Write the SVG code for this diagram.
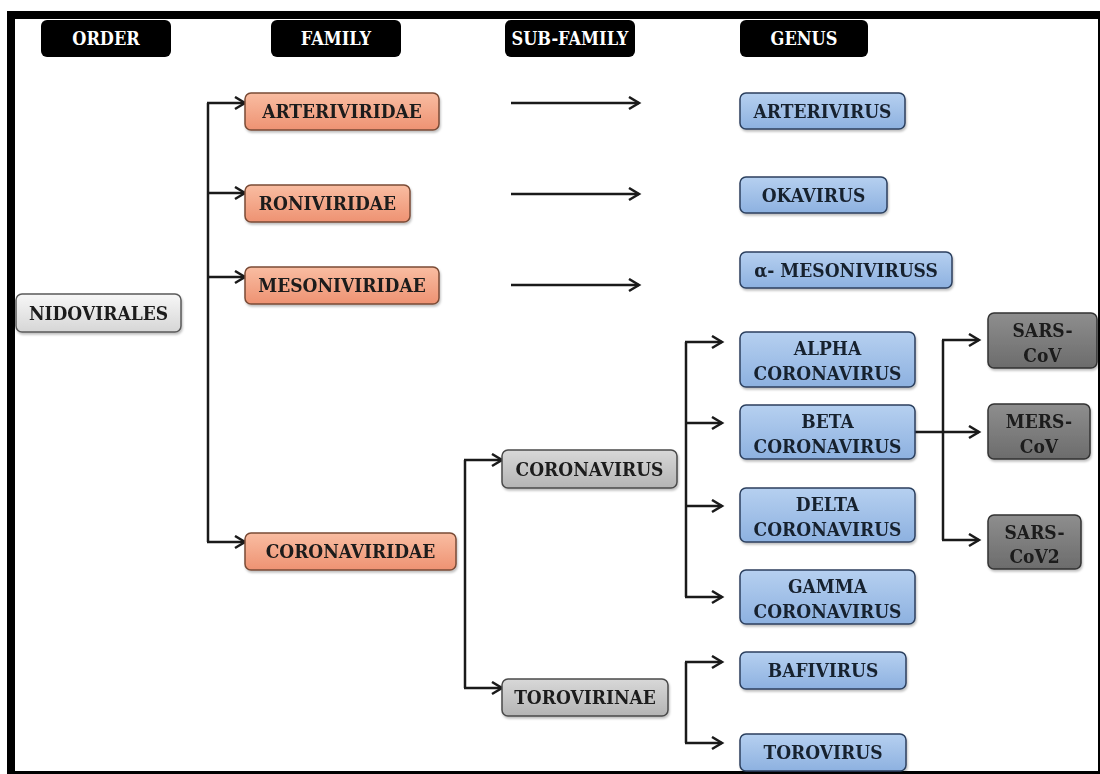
<svg xmlns="http://www.w3.org/2000/svg" width="1100" height="774" viewBox="0 0 1100 774">
<defs>
<linearGradient id="gSalmon" x1="0" y1="0" x2="0" y2="1"><stop offset="0" stop-color="#F9BDA2"/><stop offset="1" stop-color="#EE9272"/></linearGradient>
<linearGradient id="gBlue" x1="0" y1="0" x2="0" y2="1"><stop offset="0" stop-color="#B6D0F0"/><stop offset="1" stop-color="#8DB1E0"/></linearGradient>
<linearGradient id="gLight" x1="0" y1="0" x2="0" y2="1"><stop offset="0" stop-color="#F7F7F7"/><stop offset="1" stop-color="#D6D6D6"/></linearGradient>
<linearGradient id="gGray" x1="0" y1="0" x2="0" y2="1"><stop offset="0" stop-color="#D8D8D8"/><stop offset="1" stop-color="#B4B4B4"/></linearGradient>
<linearGradient id="gDark" x1="0" y1="0" x2="0" y2="1"><stop offset="0" stop-color="#8E8E8E"/><stop offset="1" stop-color="#6C6C6C"/></linearGradient>
<filter id="sh" x="-10%" y="-20%" width="120%" height="150%"><feDropShadow dx="1" dy="2" stdDeviation="1.2" flood-color="#000" flood-opacity="0.25"/></filter>
<marker id="ar" markerUnits="userSpaceOnUse" markerWidth="15" markerHeight="15" refX="12" refY="7.5" orient="auto"><path d="M2,1.5 L12,7.5 L2,13.5" fill="none" stroke="#1a1a1a" stroke-width="2.5" stroke-linejoin="miter"/></marker>
</defs>
<style>
text{font-family:"DejaVu Serif","Liberation Serif",serif;font-weight:bold;font-stretch:condensed;font-size:19px;text-anchor:middle;fill:#1a1a1a}
.hd text{fill:#fff;font-size:18px}
.tab{fill:#000}
.sal{fill:url(#gSalmon);stroke:#7a4b36;stroke-width:1.5}
.blu{fill:url(#gBlue);stroke:#2c3f5e;stroke-width:1.5}
.lgt{fill:url(#gLight);stroke:#5a5a5a;stroke-width:1.5}
.gry{fill:url(#gGray);stroke:#4a4a4a;stroke-width:1.5}
.drk{fill:url(#gDark);stroke:#333;stroke-width:1.5}
.bt{fill:#18202f}
.c line{stroke:#1a1a1a;stroke-width:2.5;fill:none}
.a{marker-end:url(#ar)}
</style>
<rect x="0" y="0" width="1100" height="774" fill="#fff"/>
<rect x="11" y="15" width="1091" height="760" fill="none" stroke="#000" stroke-width="8"/>

<g class="hd">
<g id="h-order"><rect class="tab" x="41" y="20" width="130" height="37" rx="6"/><text x="106" y="45">ORDER</text></g>
<g id="h-family"><rect class="tab" x="271" y="20" width="130" height="37" rx="6"/><text x="336" y="45">FAMILY</text></g>
<g id="h-subfamily"><rect class="tab" x="505" y="20" width="130" height="37" rx="6"/><text x="570" y="45">SUB-FAMILY</text></g>
<g id="h-genus"><rect class="tab" x="740" y="20" width="128" height="37" rx="6"/><text x="804" y="45">GENUS</text></g>
</g>

<g class="c">
<line x1="208" y1="103" x2="208" y2="542"/>
<line class="a" x1="207" y1="103" x2="245" y2="103"/>
<line class="a" x1="207" y1="193" x2="245" y2="193"/>
<line class="a" x1="207" y1="277" x2="245" y2="277"/>
<line class="a" x1="207" y1="542" x2="245" y2="542"/>
<line class="a" x1="511" y1="103" x2="639" y2="103"/>
<line class="a" x1="511" y1="194" x2="639" y2="194"/>
<line class="a" x1="511" y1="285" x2="639" y2="285"/>
<line x1="465" y1="460" x2="465" y2="688"/>
<line class="a" x1="464" y1="460" x2="502" y2="460"/>
<line class="a" x1="464" y1="688" x2="502" y2="688"/>
<line x1="686" y1="342" x2="686" y2="597"/>
<line class="a" x1="685" y1="342" x2="722" y2="342"/>
<line class="a" x1="685" y1="423" x2="722" y2="423"/>
<line class="a" x1="685" y1="506" x2="722" y2="506"/>
<line class="a" x1="685" y1="597" x2="722" y2="597"/>
<line x1="686" y1="662" x2="686" y2="743"/>
<line class="a" x1="685" y1="662" x2="722" y2="662"/>
<line class="a" x1="685" y1="743" x2="722" y2="743"/>
<line class="a" x1="915" y1="432" x2="979" y2="432"/>
<line x1="943" y1="340" x2="943" y2="540"/>
<line class="a" x1="942" y1="340" x2="979" y2="340"/>
<line class="a" x1="942" y1="540" x2="979" y2="540"/>
</g>

<g id="nidovirales" filter="url(#sh)"><rect class="lgt" x="16" y="294" width="165" height="38" rx="6"/><text x="98.5" y="320">NIDOVIRALES</text></g>

<g id="arteriviridae" filter="url(#sh)"><rect class="sal" x="245" y="93" width="194" height="37" rx="6"/><text x="342" y="118">ARTERIVIRIDAE</text></g>
<g id="roniviridae" filter="url(#sh)"><rect class="sal" x="245" y="185" width="165" height="37" rx="6"/><text x="327.5" y="210">RONIVIRIDAE</text></g>
<g id="mesoniviridae" filter="url(#sh)"><rect class="sal" x="245" y="267" width="194" height="37" rx="6"/><text x="342" y="292">MESONIVIRIDAE</text></g>
<g id="coronaviridae" filter="url(#sh)"><rect class="sal" x="245" y="533" width="211" height="37" rx="6"/><text x="350.5" y="558">CORONAVIRIDAE</text></g>

<g id="coronavirus" filter="url(#sh)"><rect class="gry" x="502" y="450" width="175" height="38" rx="6"/><text x="589.5" y="476">CORONAVIRUS</text></g>
<g id="torovirinae" filter="url(#sh)"><rect class="gry" x="502" y="679" width="166" height="37" rx="6"/><text x="585" y="704">TOROVIRINAE</text></g>

<g id="arterivirus" filter="url(#sh)"><rect class="blu" x="740" y="93" width="165" height="36" rx="6"/><text class="bt" x="822.5" y="118">ARTERIVIRUS</text></g>
<g id="okavirus" filter="url(#sh)"><rect class="blu" x="740" y="177" width="147" height="36" rx="6"/><text class="bt" x="813.5" y="202">OKAVIRUS</text></g>
<g id="mesonivirus" filter="url(#sh)"><rect class="blu" x="740" y="252" width="212" height="36" rx="6"/><text class="bt" x="846" y="277">α- MESONIVIRUSS</text></g>
<g id="alpha" filter="url(#sh)"><rect class="blu" x="740" y="332" width="175" height="55" rx="6"/><text class="bt" x="827.5" y="355">ALPHA</text><text class="bt" x="827.5" y="380">CORONAVIRUS</text></g>
<g id="beta" filter="url(#sh)"><rect class="blu" x="740" y="405" width="175" height="54" rx="6"/><text class="bt" x="827.5" y="428">BETA</text><text class="bt" x="827.5" y="453">CORONAVIRUS</text></g>
<g id="delta" filter="url(#sh)"><rect class="blu" x="740" y="488" width="175" height="54" rx="6"/><text class="bt" x="827.5" y="511">DELTA</text><text class="bt" x="827.5" y="536">CORONAVIRUS</text></g>
<g id="gamma" filter="url(#sh)"><rect class="blu" x="740" y="570" width="175" height="54" rx="6"/><text class="bt" x="827.5" y="593">GAMMA</text><text class="bt" x="827.5" y="618">CORONAVIRUS</text></g>
<g id="bafivirus" filter="url(#sh)"><rect class="blu" x="740" y="652" width="166" height="37" rx="6"/><text class="bt" x="823" y="677">BAFIVIRUS</text></g>
<g id="torovirus" filter="url(#sh)"><rect class="blu" x="740" y="734" width="166" height="37" rx="6"/><text class="bt" x="823" y="759">TOROVIRUS</text></g>

<g id="sars-cov" filter="url(#sh)"><rect class="drk" x="988" y="313" width="109" height="55" rx="6"/><text x="1042.5" y="337">SARS-</text><text x="1042.5" y="362">CoV</text></g>
<g id="mers-cov" filter="url(#sh)"><rect class="drk" x="988" y="404" width="102" height="55" rx="6"/><text x="1039" y="428">MERS-</text><text x="1039" y="453">CoV</text></g>
<g id="sars-cov2" filter="url(#sh)"><rect class="drk" x="988" y="515" width="93" height="54" rx="6"/><text x="1034.5" y="539">SARS-</text><text x="1034.5" y="563">CoV2</text></g>
</svg>
